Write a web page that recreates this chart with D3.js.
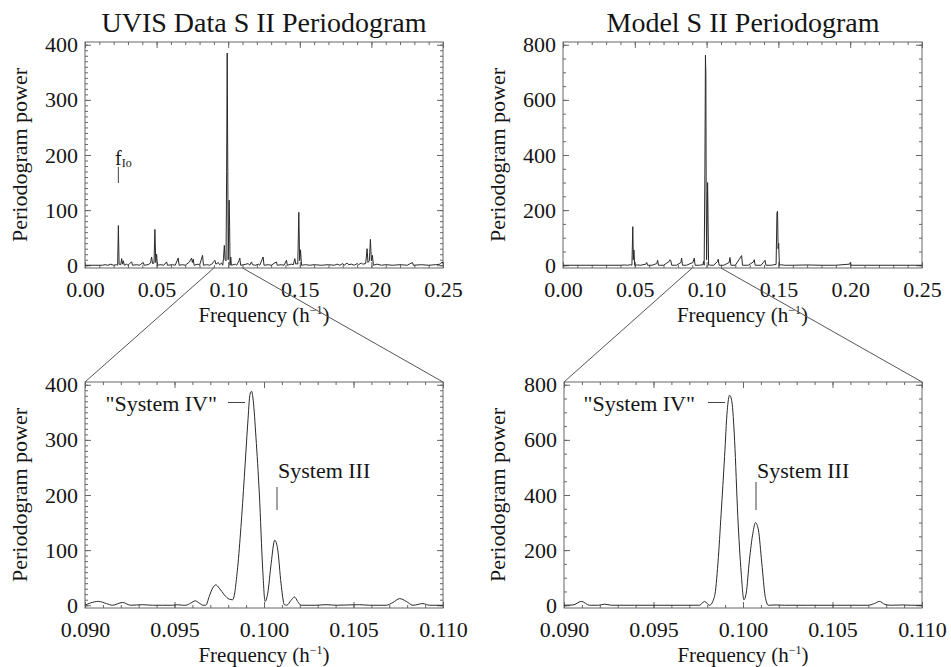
<!DOCTYPE html>
<html>
<head>
<meta charset="utf-8">
<script src="https://cdn.jsdelivr.net/npm/d3@7"></script>
<style>
  body { margin: 0; background: #fff; }
  text { font-family: "Liberation Serif", "Times New Roman", serif; fill: #151515; }
</style>
</head>
<body>
<svg id="chart"></svg>
<script>
// periodograms, [frequency (1/h), power]
const uvis_full = [
  [0.000,0],[0.012,0],[0.014,1],[0.016,0],[0.018,2],[0.020,0],[0.022,1],
  [0.0228,0],[0.0233,72],[0.0238,2],[0.0250,1],[0.0256,12],[0.0262,2],[0.0268,8],[0.0274,0],
  [0.0290,2],[0.0300,0],[0.0320,5],[0.0326,6],[0.0332,0],[0.0360,1],[0.0380,0],
  [0.0407,5],[0.0413,0],[0.0440,1],[0.0458,4],[0.0465,15],[0.0472,3],[0.0482,4],[0.0488,65],[0.0494,5],[0.0500,20],[0.0506,0],
  [0.0530,1],[0.0550,0],[0.0570,6],[0.0576,0],[0.0610,1],[0.0630,0],[0.0651,13],[0.0657,0],[0.0680,1],[0.0700,0],
  [0.0730,6],[0.0737,10],[0.0744,13],[0.0750,5],[0.0756,11],[0.0762,0],[0.0790,2],[0.0800,0],[0.0821,18],[0.0827,0],
  [0.0850,1],[0.0870,0],[0.0890,3],[0.0900,7],[0.0907,9],[0.0914,2],[0.0930,5],[0.0940,1],[0.0955,4],[0.0962,0],
  [0.0967,12],[0.0973,36],[0.0978,10],[0.0985,8],[0.0989,170],[0.0993,385],[0.0997,180],[0.1000,10],[0.1003,60],[0.10065,118],[0.1010,70],[0.1013,0],[0.1018,15],[0.1022,0],
  [0.1050,2],[0.1060,0],[0.1075,8],[0.1081,13],[0.1087,0],[0.1110,1],[0.1140,3],[0.1150,0],[0.1163,6],[0.1170,1],[0.1190,0],[0.1210,2],[0.1220,0],
  [0.1244,15],[0.1250,0],[0.1280,1],[0.1300,0],[0.1337,6],[0.1343,0],[0.1370,1],[0.1390,0],[0.1407,9],[0.1413,0],[0.1440,2],[0.1455,1],
  [0.1465,12],[0.1472,2],[0.1480,3],[0.1486,2],[0.1493,96],[0.1499,8],[0.1505,28],[0.1512,0],
  [0.1540,1],[0.1570,0],[0.1600,1],[0.1650,0],[0.1700,1],[0.1740,0],[0.1760,2],[0.1780,0],[0.1800,3],[0.1810,0],[0.1830,4],[0.1840,1],[0.1860,2],[0.1880,0],[0.1900,3],[0.1910,1],[0.1930,4],[0.1940,2],
  [0.1960,3],[0.1970,30],[0.1976,5],[0.1986,8],[0.1993,47],[0.2000,8],[0.2007,18],[0.2014,0],
  [0.2040,2],[0.2070,0],[0.2100,1],[0.2150,0],[0.2200,1],[0.2250,0],[0.2287,5],[0.2293,0],[0.2350,1],[0.2400,0],[0.2450,1],[0.2480,2],[0.2494,6],[0.2500,3]
]

const model_full = [
  [0.000,0],[0.040,0],[0.043,1],[0.045,0],[0.0470,2],[0.0480,0],[0.0486,140],[0.0490,20],[0.0494,55],[0.0499,0],
  [0.0520,1],[0.0540,0],[0.0577,4],[0.0583,10],[0.0589,0],[0.0620,0],[0.0653,6],[0.0659,18],[0.0665,0],[0.0700,0],
  [0.0740,14],[0.0745,20],[0.0751,16],[0.0757,0],[0.0790,0],[0.0821,10],[0.0826,26],[0.0832,0],[0.0860,0],[0.0905,10],[0.0910,20],[0.0914,26],[0.0920,0],[0.0950,0],
  [0.0974,2],[0.0979,14],[0.0983,0],[0.0988,330],[0.0992,762],[0.0995,690],[0.0997,270],[0.1000,20],[0.1003,130],[0.1007,300],[0.1010,175],[0.1014,0],[0.1019,2],[0.1025,0],
  [0.1050,0],[0.1076,14],[0.1081,22],[0.1087,0],[0.1120,0],[0.1157,10],[0.1163,28],[0.1169,0],[0.1200,0],[0.1244,35],[0.1250,0],[0.1290,0],[0.1326,12],[0.1332,20],[0.1338,0],[0.1380,0],[0.1407,18],[0.1413,0],
  [0.1450,0],[0.1484,3],[0.1490,190],[0.1494,196],[0.1498,60],[0.1502,80],[0.1507,0],[0.1520,2],[0.1540,0],[0.1600,0],[0.1700,1],[0.1800,0],[0.1900,0],[0.1996,4],[0.2001,10],[0.2006,0],[0.2100,0],[0.2500,0]
]

// zoomed 0.09 - 0.11 window
const uvis_zoom = [
  [0.0900,0],[0.0903,4],[0.09075,7],[0.0912,3],[0.09153,0],[0.09209,5],[0.09256,0],[0.09321,1],[0.09377,0],[0.09433,0],[0.09489,0],[0.09517,1],[0.09545,0],
  [0.09563,0],[0.09591,4],[0.09616,8],[0.09638,4],[0.0966,0],[0.09675,0],[0.09694,16],[0.09713,31],[0.09731,37],[0.0975,31],[0.09778,19],[0.09806,11],[0.09825,10],
  [0.09853,69],[0.09871,141],[0.0989,232],[0.09909,329],[0.09922,383],[0.09931,388],[0.0994,371],[0.09955,305],[0.09974,202],[0.09993,64],[0.10006,7],
  [0.10021,22],[0.1004,76],[0.1006,118],[0.10077,100],[0.10095,40],[0.10114,1],[0.10127,0],[0.10151,9],[0.1017,15],[0.10188,7],[0.10207,0],
  [0.10291,0],[0.10347,1],[0.10403,0],[0.10534,1],[0.1059,0],[0.10683,0],[0.1072,5],[0.10758,12],[0.10795,7],[0.10832,0],[0.10888,3],[0.10925,0],[0.1100,0]
]

const model_zoom = [
  [0.0900,0],[0.0905,1],[0.09097,14],[0.09143,0],[0.09193,0],[0.09227,4],[0.09264,0],[0.09394,0],[0.09525,0],[0.09692,0],[0.09757,0],[0.09785,14],[0.09813,0],
  [0.09841,32],[0.0986,153],[0.09878,334],[0.09897,539],[0.09912,707],[0.09925,762],[0.09938,738],[0.09953,599],[0.09971,322],[0.0999,117],[0.10005,20],
  [0.10018,44],[0.10036,165],[0.10055,261],[0.1007,300],[0.10086,273],[0.10105,153],[0.10124,32],[0.10142,0],[0.10185,1],[0.10232,0],
  [0.10362,0],[0.10548,0],[0.10697,0],[0.10734,6],[0.10762,14],[0.10793,3],[0.10827,0],[0.10892,1],[0.10939,0],[0.1100,0]
]

const full_ticks = [0.00, 0.05, 0.10, 0.15, 0.20, 0.25]
const zoom_ticks = [0.090, 0.095, 0.100, 0.105, 0.110]
const uvis_power_ticks = [0, 100, 200, 300, 400]
const model_power_ticks = [0, 200, 400, 600, 800]

const width = 951
const height = 667

const svg = d3.select('#chart')
  .attr('width', width)
  .attr('height', height)

const frame_color = '#666'
const line_color = '#2a2a2a'

// one axis edge: ticks pointing into the frame, labels only where asked
function edge(g, axis, transform, values, size, fmt) {
  var a = g.append('g')
    .attr('transform', transform)
    .call(axis.tickValues(values).tickSize(-size).tickFormat(fmt))
  a.select('.domain').remove()
  a.selectAll('line').attr('stroke', frame_color)
  a.attr('font-family', null).attr('font-size', null)
  a.selectAll('text').style('font-size', '22px').attr('fill', '#151515')
  return a
}

function draw_panel(p) {
  var x = d3.scaleLinear().domain(p.xdomain).range([p.left, p.right])
  var y = d3.scaleLinear().domain(p.ydomain).range([p.bottom, p.top])
  var g = svg.append('g')
  var bt = 'translate(0,' + p.bottom + ')', tp = 'translate(0,' + p.top + ')'
  var lf = 'translate(' + p.left + ',0)', rt = 'translate(' + p.right + ',0)'

  // minor ticks
  edge(g, d3.axisBottom(x), bt, p.xminor, 3, '')
  edge(g, d3.axisTop(x), tp, p.xminor, 3, '')
  edge(g, d3.axisLeft(y), lf, p.yminor, 3, '')
  edge(g, d3.axisRight(y), rt, p.yminor, 3, '')
  // major ticks + labels
  edge(g, d3.axisBottom(x).tickPadding(13.5), bt, p.xticks, 6, d3.format(p.xfmt))
  edge(g, d3.axisTop(x), tp, p.xticks, 6, '')
  edge(g, d3.axisLeft(y).tickPadding(7), lf, p.yticks, 6, d3.format('d'))
  edge(g, d3.axisRight(y), rt, p.yticks, 6, '')

  g.append('rect')
    .attr('x', p.left).attr('y', p.top)
    .attr('width', p.right - p.left).attr('height', p.bottom - p.top)
    .attr('fill', 'none').attr('stroke', frame_color).attr('stroke-width', 1)

  var line = d3.line()
    .x(function (d) { return x(d[0]) })
    .y(function (d) { return y(d[1]) })
    .curve(p.curve)

  g.append('path')
    .datum(p.data)
    .attr('d', line)
    .attr('fill', 'none')
    .attr('stroke', line_color)
    .attr('stroke-width', 1)

  // axis titles
  g.append('text')
    .attr('transform', 'translate(' + p.ylab_x + ',' + (p.top + p.bottom) / 2 + ') rotate(-90)')
    .attr('text-anchor', 'middle')
    .style('font-size', '22px')
    .text('Periodogram power')

  var xt_lab = g.append('text')
    .attr('x', (p.left + p.right) / 2)
    .attr('y', p.xlab_y)
    .attr('text-anchor', 'middle')
    .style('font-size', '21px')
  xt_lab.append('tspan').text('Frequency (h')
  xt_lab.append('tspan').attr('dy', -8).style('font-size', '12px').text('\u22121')
  xt_lab.append('tspan').attr('dy', 8).text(')')

  return { x: x, y: y, g: g, p: p }
}

var tl = draw_panel({
  left: 85, right: 443, top: 42, bottom: 268,
  xdomain: [0, 0.25], ydomain: [-5, 405],
  xticks: full_ticks, xminor: d3.range(0, 0.2501, 0.01), xfmt: '.2f',
  yticks: uvis_power_ticks, yminor: d3.range(0, 401, 10),
  data: uvis_full, curve: d3.curveLinear, ylab_x: 27, xlab_y: 321.5
})
var tr = draw_panel({
  left: 563, right: 922, top: 42, bottom: 268,
  xdomain: [0, 0.25], ydomain: [-10, 810],
  xticks: full_ticks, xminor: d3.range(0, 0.2501, 0.01), xfmt: '.2f',
  yticks: model_power_ticks, yminor: d3.range(0, 801, 50),
  data: model_full, curve: d3.curveLinear, ylab_x: 505, xlab_y: 321.5
})
var bl = draw_panel({
  left: 85, right: 443, top: 382, bottom: 608,
  xdomain: [0.09, 0.11], ydomain: [-5, 405],
  xticks: zoom_ticks, xminor: d3.range(0.090, 0.11001, 0.001), xfmt: '.3f',
  yticks: uvis_power_ticks, yminor: d3.range(0, 401, 10),
  data: uvis_zoom, curve: d3.curveMonotoneX, ylab_x: 27, xlab_y: 661.5
})
var br = draw_panel({
  left: 564, right: 922, top: 382, bottom: 608,
  xdomain: [0.09, 0.11], ydomain: [-10, 810],
  xticks: zoom_ticks, xminor: d3.range(0.090, 0.11001, 0.001), xfmt: '.3f',
  yticks: model_power_ticks, yminor: d3.range(0, 801, 50),
  data: model_zoom, curve: d3.curveMonotoneX, ylab_x: 505, xlab_y: 661.5
})

// titles
svg.append('text').attr('x', 264).attr('y', 32).attr('text-anchor', 'middle')
  .style('font-size', '28px').text('UVIS Data S II Periodogram')
svg.append('text').attr('x', 743).attr('y', 32).attr('text-anchor', 'middle')
  .style('font-size', '28px').text('Model S II Periodogram')

// lines joining the 0.09-0.11 window to the zoomed panels
function connect(top, bottom) {
  var lo = bottom.x.domain()[0], hi = bottom.x.domain()[1]
  ;[[lo, bottom.p.left], [hi, bottom.p.right]].forEach(function (e) {
    svg.append('line')
      .attr('x1', top.x(e[0])).attr('y1', top.p.bottom)
      .attr('x2', e[1]).attr('y2', bottom.p.top)
      .attr('stroke', '#555').attr('stroke-width', 1)
  })
}
connect(tl, bl)
connect(tr, br)

// annotations
var fio = svg.append('text').attr('x', 115).attr('y', 165).style('font-size', '20px')
fio.append('tspan').text('f')
fio.append('tspan').attr('dy', 2).style('font-size', '12px').text('Io')
svg.append('line').attr('x1', tl.x(0.0233)).attr('x2', tl.x(0.0233)).attr('y1', 167).attr('y2', 183)
  .attr('stroke', '#444')

function label_peaks(iv_end, iv_dash, iii_x, iii_top) {
  svg.append('text').attr('x', iv_end).attr('y', 411).attr('text-anchor', 'end')
    .style('font-size', '22px').text('"System IV"')
  svg.append('line').attr('x1', iv_dash[0]).attr('x2', iv_dash[1]).attr('y1', 402.5).attr('y2', 402.5)
    .attr('stroke', '#444')
  svg.append('text').attr('x', iii_x + 1).attr('y', 478)
    .style('font-size', '22px').text('System III')
  svg.append('line').attr('x1', iii_x).attr('x2', iii_x).attr('y1', iii_top).attr('y2', 510)
    .attr('stroke', '#444')
}
label_peaks(217, [228, 245], 277, 487)
label_peaks(695, [708, 725], 756, 482)
</script>
</body>
</html>
